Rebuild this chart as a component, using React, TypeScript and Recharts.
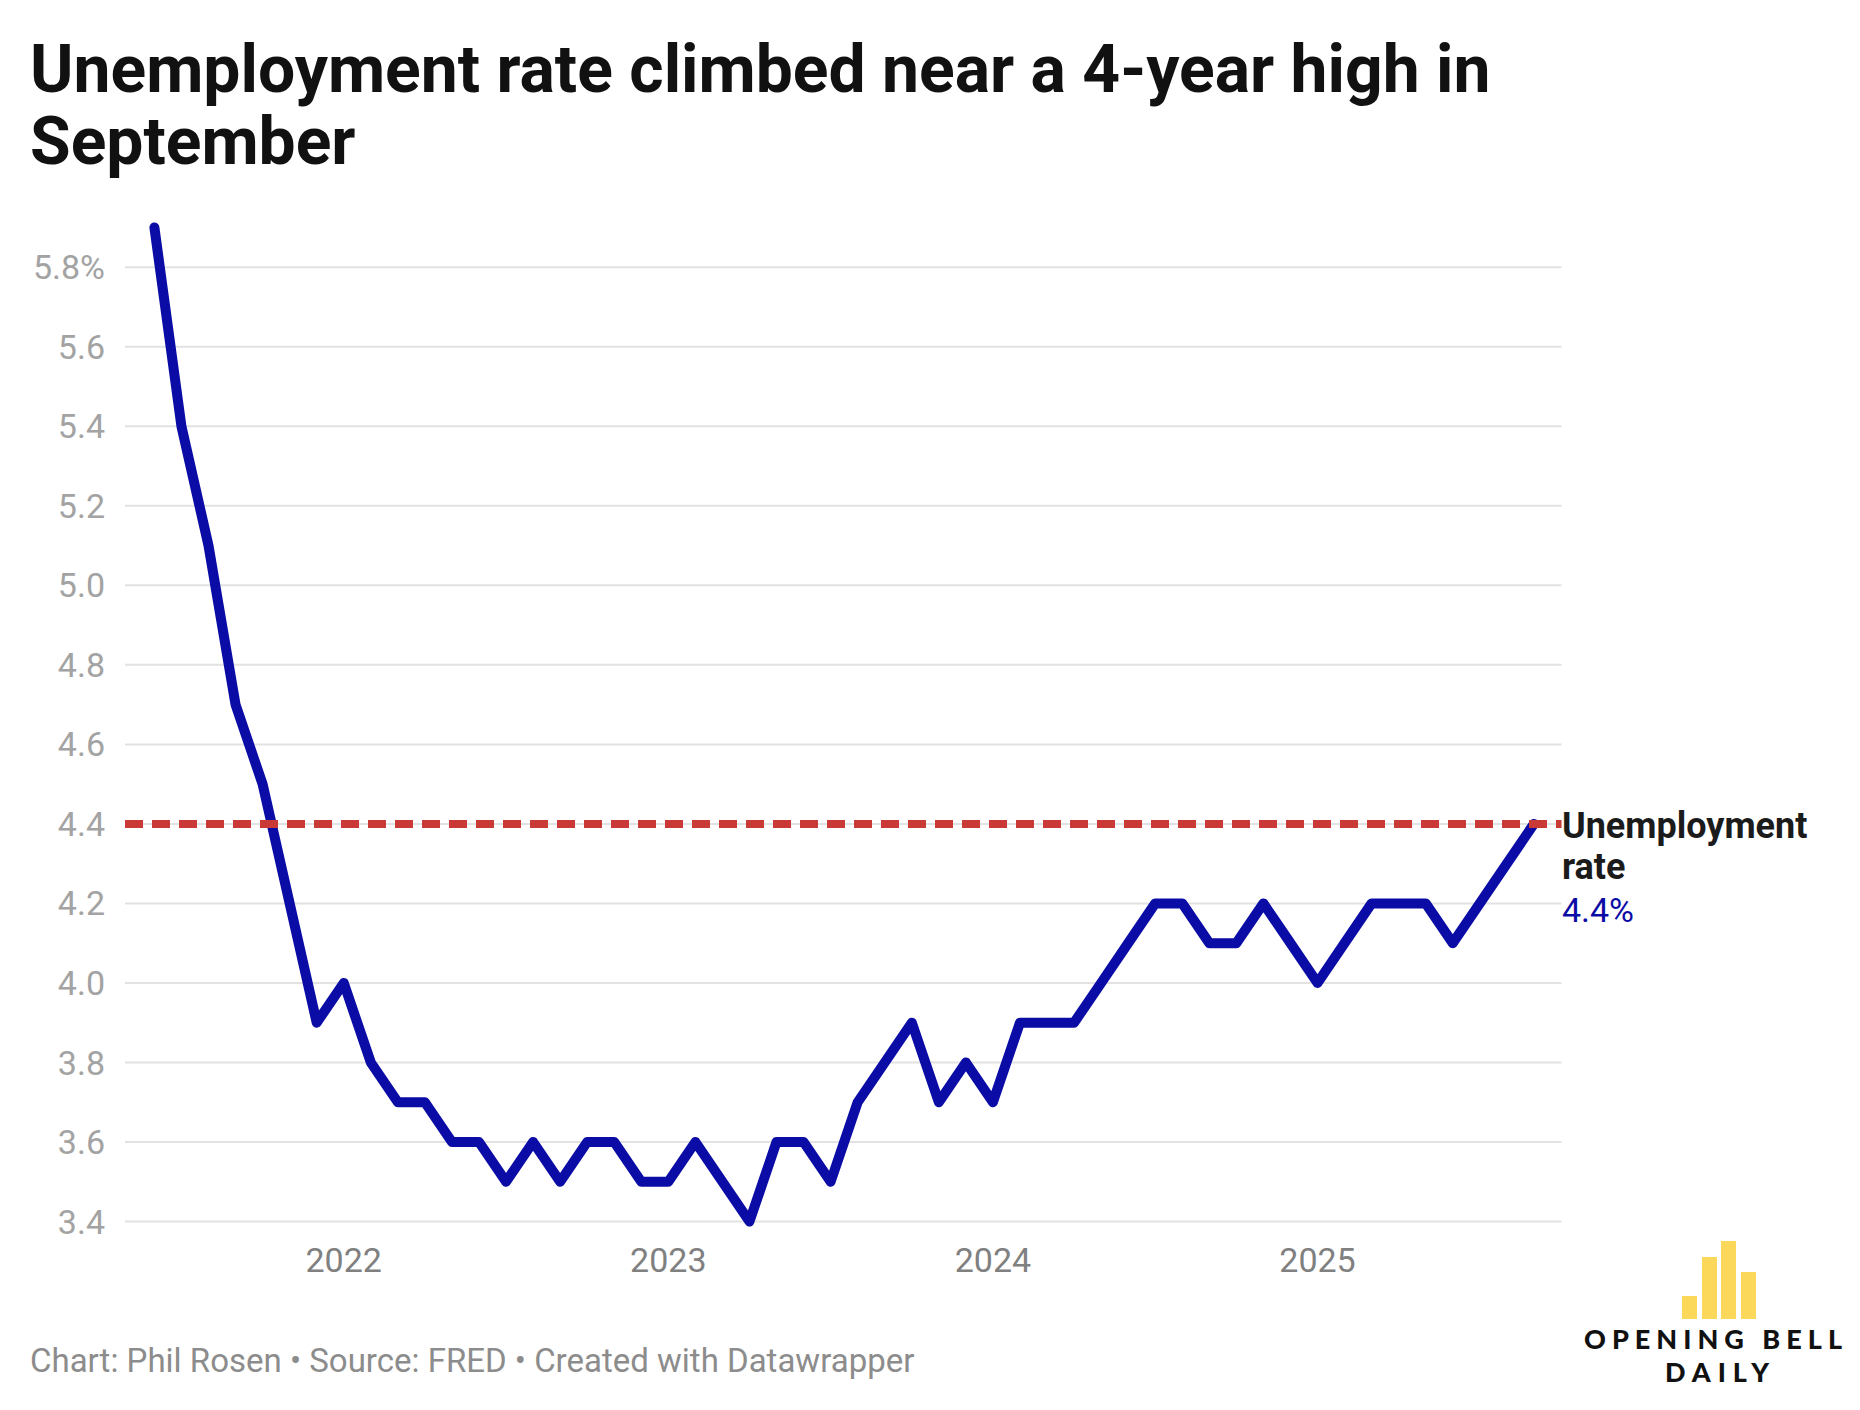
import React from 'react';
import { LineChart, Line, XAxis, YAxis, CartesianGrid, ReferenceLine, LabelList } from 'recharts';

// monthly US unemployment rate, Jun 2021 - Sep 2025 (FRED)
const months = [
  '2021-06', '2021-07', '2021-08', '2021-09', '2021-10', '2021-11', '2021-12',
  '2022-01', '2022-02', '2022-03', '2022-04', '2022-05', '2022-06', '2022-07', '2022-08', '2022-09', '2022-10', '2022-11', '2022-12',
  '2023-01', '2023-02', '2023-03', '2023-04', '2023-05', '2023-06', '2023-07', '2023-08', '2023-09', '2023-10', '2023-11', '2023-12',
  '2024-01', '2024-02', '2024-03', '2024-04', '2024-05', '2024-06', '2024-07', '2024-08', '2024-09', '2024-10', '2024-11', '2024-12',
  '2025-01', '2025-02', '2025-03', '2025-04', '2025-05', '2025-06', '2025-07', '2025-08', '2025-09',
];

const rates = [
  5.9, 5.4, 5.1, 4.7, 4.5, 4.2, 3.9,
  4.0, 3.8, 3.7, 3.7, 3.6, 3.6, 3.5, 3.6, 3.5, 3.6, 3.6, 3.5,
  3.5, 3.6, 3.5, 3.4, 3.6, 3.6, 3.5, 3.7, 3.8, 3.9, 3.7, 3.8,
  3.7, 3.9, 3.9, 3.9, 4.0, 4.1, 4.2, 4.2, 4.1, 4.1, 4.2, 4.1,
  4.0, 4.1, 4.2, 4.2, 4.2, 4.1, 4.2, 4.3, 4.4,
];

const yTicks = [3.4, 3.6, 3.8, 4.0, 4.2, 4.4, 4.6, 4.8, 5.0, 5.2, 5.4, 5.6, 5.8];
const yearTicks = ['2022-01', '2023-01', '2024-01', '2025-01'];
const refValue = 4.4;
const seriesName = ['Unemployment', 'rate'];

const data = months.map((m, i) => ({ i, month: m, rate: rates[i] }));
const xTicks = yearTicks.map(m => months.indexOf(m));
const lastIndex = data.length - 1;

const FONT = 'Roboto, "Noto Sans", sans-serif';
const LOGO_FONT = 'Lato, "DejaVu Sans", sans-serif';

const EndLabel = (props: any) => {
  const { x, y, index, value } = props;
  if (index !== lastIndex) return null;
  return (
    <g>
      <text x={x + 28} y={y + 14} fontFamily={FONT} fontSize={36} fontWeight={700} fill="#1b1b1b">{seriesName[0]}</text>
      <text x={x + 28} y={y + 55} fontFamily={FONT} fontSize={36} fontWeight={700} fill="#1b1b1b">{seriesName[1]}</text>
      <text x={x + 28} y={y + 98} fontFamily={FONT} fontSize={34} fill="#0b0ba6">{value.toFixed(1)}%</text>
    </g>
  );
};

export default function App() {
  return (
    <div style={{ position: 'absolute', left: 0, top: 0, width: 1860, height: 1410, background: '#fff' }}>
      <LineChart
        width={1860}
        height={1410}
        data={data}
        margin={{ top: 227.5, right: 298.5, bottom: 128.5, left: 105 }}
      >
        <CartesianGrid vertical={false} horizontalValues={yTicks} stroke="#e2e2e2" strokeWidth={2} />
        <XAxis
          dataKey="i"
          type="number"
          domain={[-1.087, 52.02]}
          ticks={xTicks}
          tickFormatter={(v: number) => months[v].slice(0, 4)}
          axisLine={false}
          tickLine={false}
          tickSize={6}
          tickMargin={20}
          height={60}
          tick={{ fill: '#808080', fontSize: 34, fontFamily: FONT }}
        />
        <YAxis
          type="number"
          domain={[3.4, 5.9]}
          ticks={yTicks}
          interval={0}
          tickFormatter={(v: number) => (v === 5.8 ? '5.8%' : v.toFixed(1))}
          axisLine={false}
          tickLine={false}
          tickSize={6}
          tickMargin={14}
          width={20}
          tick={{ fill: '#a3a3a3', fontSize: 34, fontFamily: FONT }}
        />
        <Line
          type="linear"
          dataKey="rate"
          stroke="#0b0ba6"
          strokeWidth={10}
          strokeLinejoin="round"
          strokeLinecap="round"
          dot={false}
          activeDot={false}
          isAnimationActive={false}
        >
          <LabelList dataKey="rate" content={EndLabel} />
        </Line>
        <ReferenceLine y={refValue} stroke="#c93a36" strokeWidth={8} strokeDasharray="18 9" />
      </LineChart>

      <svg width={1860} height={1410} style={{ position: 'absolute', left: 0, top: 0, pointerEvents: 'none' }}>
        <text fontFamily={FONT} fontSize={66} fontWeight={700} fill="#111">
          <tspan x={30} y={92}>Unemployment rate climbed near a 4-year high in</tspan>
          <tspan x={30} y={164}>September</tspan>
        </text>
        <text x={30} y={1372} fontFamily={FONT} fontSize={33} fill="#8c8c8c">
          Chart: Phil Rosen • Source: FRED • Created with Datawrapper
        </text>
        <g fill="#fcd85a">
          <rect x={1682} y={1296} width={15} height={23} />
          <rect x={1702} y={1257} width={15} height={62} />
          <rect x={1721} y={1241} width={15} height={78} />
          <rect x={1741} y={1272} width={15} height={47} />
        </g>
        <text textAnchor="middle" fontFamily={LOGO_FONT} fontSize={27} fontWeight={900} fill="#111" lengthAdjust="spacing">
          <tspan x={1713} y={1349} textLength={258}>OPENING BELL</tspan>
          <tspan x={1717} y={1382} textLength={104}>DAILY</tspan>
        </text>
      </svg>
    </div>
  );
}
